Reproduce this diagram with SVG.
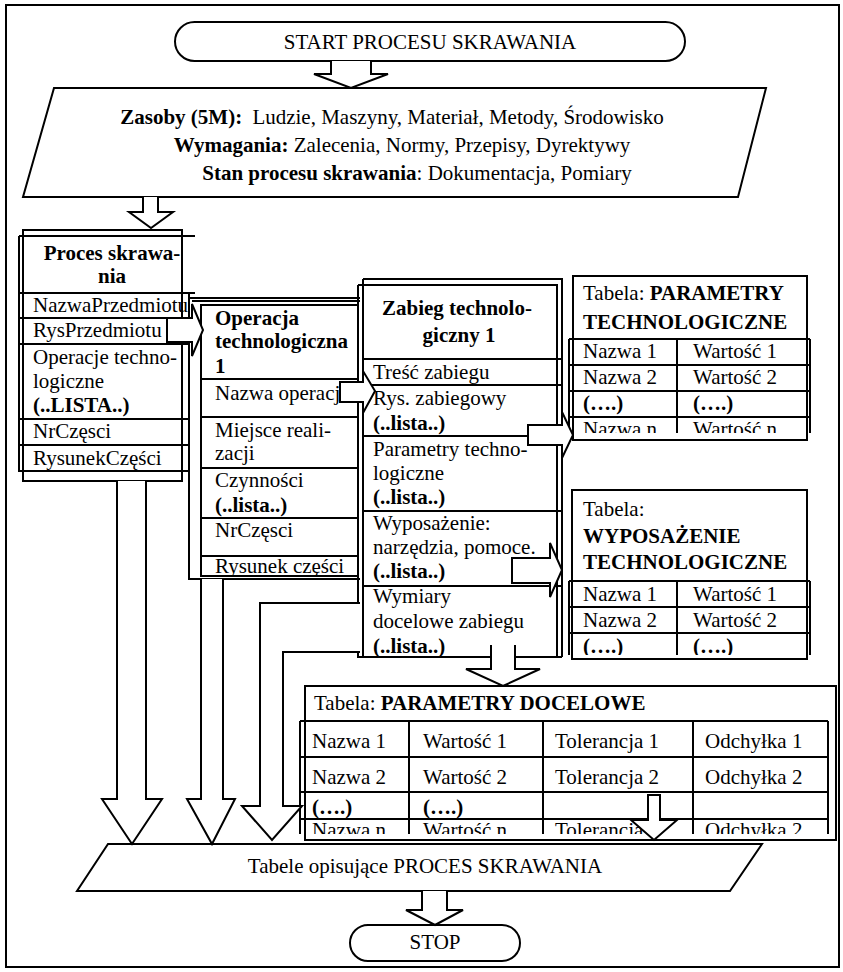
<svg xmlns="http://www.w3.org/2000/svg" width="843" height="972" viewBox="0 0 843 972">
<style>
.t{font-family:"Liberation Serif","Times New Roman",serif;font-size:21px;fill:#000}
.b{font-weight:bold}
.c{text-anchor:middle}
.ln{fill:none;stroke:#000;stroke-width:2}
.bx{fill:#fff;stroke:#000;stroke-width:2}
.ar{fill:#fff;stroke:#000;stroke-width:2;stroke-linejoin:miter}
</style>
<defs>
<clipPath id="cOp"><rect x="201" y="305" width="157" height="271"/></clipPath>
<clipPath id="cZb"><rect x="358" y="279" width="204" height="378"/></clipPath>
<clipPath id="cPT"><rect x="569" y="339" width="241" height="94"/></clipPath>
<clipPath id="cWT"><rect x="569" y="581" width="241" height="74"/></clipPath>
<clipPath id="cPD"><rect x="300" y="721" width="528" height="113"/></clipPath>
</defs>
<rect width="843" height="972" fill="#fff"/>
<g id="frame"><rect class="ln" x="6" y="5" width="833" height="962"/></g>

<g id="start">
<rect class="bx" x="175" y="22" width="510" height="39" rx="19.5"/>
<text class="t c" x="430" y="49">START PROCESU SKRAWANIA</text>
</g>

<g id="zasoby">
<polygon class="bx" points="54,88 766,88 738,197 23,197"/>
<text class="t c" x="392" y="124"><tspan class="b">Zasoby (5M):</tspan><tspan dx="5"> Ludzie, Maszyny, Materiał, Metody, Środowisko</tspan></text>
<text class="t c" x="402" y="152"><tspan class="b">Wymagania:</tspan> Zalecenia, Normy, Przepisy, Dyrektywy</text>
<text class="t c" x="417" y="180"><tspan class="b">Stan procesu skrawania</tspan>: Dokumentacja, Pomiary</text>
</g>

<g id="proces">
<rect class="ln" x="23" y="230" width="159" height="251"/>
<path class="ln" d="M19,236 H195 M19,293 H195 M19,318 H189 M19,344 H189 M19,419 H189 M19,445 H189 M19,236 V471 H189 V293"/>
<text class="t b c" x="112" y="260">Proces skrawa-</text>
<text class="t b c" x="112" y="283">nia</text>
<text class="t" x="33" y="312">NazwaPrzedmiotu</text>
<text class="t" x="33" y="337">RysPrzedmiotu</text>
<text class="t" x="33" y="364">Operacje techno-</text>
<text class="t" x="33" y="388">logiczne</text>
<text class="t b" x="33" y="412">(..LISTA..)</text>
<text class="t" x="33" y="438">NrCzęsci</text>
<text class="t" x="33" y="465">RysunekCzęści</text>
</g>

<g id="operacja">
<path class="ln" d="M189,298 H360 M192,301 H360 M189,298 V579 H360"/>
<rect class="ln" x="201" y="305" width="157" height="271"/>
<path class="ln" d="M201,379 H358 M201,417 H358 M201,468 H358 M201,518 H358 M201,556 H358"/>
<text class="t b" x="215" y="325">Operacja</text>
<text class="t b" x="215" y="348">technologiczna</text>
<text class="t b" x="215" y="373">1</text>
<text class="t" x="215" y="400">Nazwa operacji</text>
<text class="t" x="215" y="437">Miejsce reali-</text>
<text class="t" x="215" y="460">zacji</text>
<text class="t" x="215" y="487">Czynności</text>
<text class="t b" x="215" y="512">(..lista..)</text>
<text class="t" x="215" y="537">NrCzęsci</text>
<text class="t" x="215" y="573" clip-path="url(#cOp)">Rysunek części</text>
</g>

<g id="zabieg">
<path class="ln" d="M358,285 H557 V657 M358,285 V657 H562 M363,279 H562 V657 M363,279 V657"/>
<path class="ln" d="M363,359 H562 M363,385 H562 M363,436 H562 M363,511 H562 M363,586 H562"/>
<text class="t b c" x="457" y="315">Zabieg technolo-</text>
<text class="t b c" x="459" y="342">giczny 1</text>
<text class="t" x="373" y="379">Treść zabiegu</text>
<text class="t" x="373" y="405">Rys. zabiegowy</text>
<text class="t b" x="373" y="430">(..lista..)</text>
<text class="t" x="373" y="456">Parametry techno-</text>
<text class="t" x="373" y="480">logiczne</text>
<text class="t b" x="373" y="504">(..lista..)</text>
<text class="t" x="373" y="530">Wyposażenie:</text>
<text class="t" x="373" y="554">narzędzia, pomoce.</text>
<text class="t b" x="373" y="578">(..lista..)</text>
<text class="t" x="373" y="603">Wymiary</text>
<text class="t" x="373" y="628">docelowe zabiegu</text>
<text class="t b" x="373" y="653" clip-path="url(#cZb)">(..lista..)</text>
</g>

<g id="tab-param-tech">
<rect class="ln" x="573" y="276" width="234" height="164"/>
<path class="ln" d="M569,339 H810 M569,365 H810 M569,391 H810 M569,417 H810 M569,339 V433 M677,339 V433 M810,339 V433"/>
<text class="t" x="583" y="300">Tabela: <tspan class="b">PARAMETRY</tspan></text>
<text class="t b" x="583" y="329">TECHNOLOGICZNE</text>
<text class="t" x="583" y="358">Nazwa 1</text>
<text class="t" x="693" y="358">Wartość 1</text>
<text class="t" x="583" y="384">Nazwa 2</text>
<text class="t" x="693" y="384">Wartość 2</text>
<text class="t b" x="583" y="410">(….)</text>
<text class="t b" x="693" y="410">(….)</text>
<g clip-path="url(#cPT)">
<text class="t" x="583" y="436">Nazwa n</text>
<text class="t" x="693" y="436">Wartość n</text>
</g>
</g>

<g id="tab-wyposazenie">
<rect class="ln" x="572" y="490" width="235" height="169"/>
<path class="ln" d="M569,581 H810 M569,607 H810 M569,633 H810 M569,581 V655 M677,581 V655 M810,581 V655"/>
<text class="t" x="583" y="516">Tabela:</text>
<text class="t b" x="583" y="543">WYPOSAŻENIE</text>
<text class="t b" x="583" y="569">TECHNOLOGICZNE</text>
<text class="t" x="583" y="601">Nazwa 1</text>
<text class="t" x="693" y="601">Wartość 1</text>
<text class="t" x="583" y="627">Nazwa 2</text>
<text class="t" x="693" y="627">Wartość 2</text>
<g clip-path="url(#cWT)">
<text class="t b" x="583" y="653">(….)</text>
<text class="t b" x="693" y="653">(….)</text>
</g>
</g>

<g id="tab-param-doc">
<rect class="ln" x="305" y="686" width="531" height="154"/>
<path class="ln" d="M300,721 H828 M300,757 H828 M300,792 H828 M300,819 H828 M300,721 V834 M409,721 V834 M543,721 V834 M693,721 V834 M828,721 V834"/>
<text class="t" x="314" y="710">Tabela: <tspan class="b">PARAMETRY DOCELOWE</tspan></text>
<text class="t" x="312" y="748">Nazwa 1</text>
<text class="t" x="423" y="748">Wartość 1</text>
<text class="t" x="555" y="748">Tolerancja 1</text>
<text class="t" x="705" y="748">Odchyłka 1</text>
<text class="t" x="312" y="784">Nazwa 2</text>
<text class="t" x="423" y="784">Wartość 2</text>
<text class="t" x="555" y="784">Tolerancja 2</text>
<text class="t" x="705" y="784">Odchyłka 2</text>
<text class="t b" x="312" y="814">(….)</text>
<text class="t b" x="423" y="814">(….)</text>
<g clip-path="url(#cPD)">
<text class="t" x="312" y="837">Nazwa n</text>
<text class="t" x="423" y="837">Wartość n</text>
<text class="t" x="555" y="837">Tolerancja n</text>
<text class="t" x="705" y="837">Odchyłka 2</text>
</g>
</g>

<g id="tabele">
<polygon class="bx" points="108,844 762,844 730,891 77,891"/>
<text class="t c" x="425" y="873">Tabele opisujące PROCES SKRAWANIA</text>
</g>

<g id="stop">
<rect class="bx" x="350" y="925" width="170" height="36" rx="18"/>
<text class="t c" x="435" y="949">STOP</text>
</g>

<g id="connectors">
<path class="ar" d="M331,61 V74 H314 L351,88 L388,74 H371 V61"/>
<path class="ar" d="M143,197 V212 H129 L151,228 L173,212 H158 V197"/>
<path class="ar" d="M167,318 H192 V304 L203,330 L192,356 V342 H167 Z"/>
<path class="ar" d="M340,382 H363 V371 L375,391 L363,413 V402 H340 Z"/>
<path class="ar" d="M528,425 H562 V412 L573,435 L562,458 V445 H528 Z"/>
<path class="ar" d="M512,558 H550 V543 L562,570 L550,597 V583 H512 Z"/>
<path class="ar" d="M491,645 V669 H466 L503,686 L540,669 H515 V645"/>
<path class="ar" d="M648,795 V820 H631 L654,840 L677,820 H660 V795 Z"/>
<path class="ar" d="M117,481 V799 H102 L132,844 L162,799 H146 V481"/>
<path class="ar" d="M201,579 V799 H187 L212,844 L235,799 H223 V579"/>
<path class="ar" d="M360,603 H260 V806 H242 L272,840 L302,806 H283 V652 H360"/>
<path class="ar" d="M422,891 V910 H406 L435,925 L463,910 H447 V891"/>
</g>
</svg>
